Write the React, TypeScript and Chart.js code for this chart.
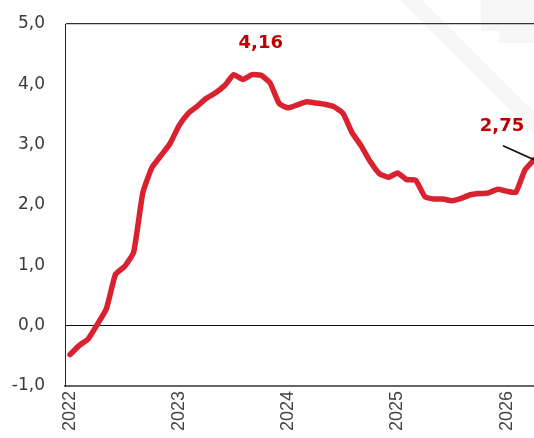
import React, { useEffect, useRef } from "react";
import { Chart, registerables } from "chart.js";

Chart.register(...registerables);

// Monthly series, first value = January 2022
const YEAR_LABELS = ["2022", "2023", "2024", "2025", "2026"];
const MONTHS_PER_YEAR = 12;
const VALUES = [
  -0.48, -0.33, -0.22, 0.02, 0.28, 0.85, 0.98, 1.22, 2.2, 2.62, 2.82, 3.02,
  3.32, 3.52, 3.64, 3.77, 3.86, 3.98, 4.16, 4.08, 4.16, 4.15, 4.02, 3.68,
  3.61, 3.66, 3.71, 3.69, 3.67, 3.63, 3.52, 3.2, 2.98, 2.72, 2.52, 2.46,
  2.53, 2.42, 2.41, 2.14, 2.1, 2.1, 2.07, 2.11, 2.17, 2.19, 2.2, 2.26,
  2.23, 2.21, 2.58, 2.75,
];
const Y_TICKS = [-1, 0, 1, 2, 3, 4, 5];
const PEAK_LABEL = "4,16";
const LAST_LABEL = "2,75";

const fmt = (v: number) => v.toFixed(1).replace(".", ",");

export default function App() {
  const ref = useRef<HTMLCanvasElement>(null);

  useEffect(() => {
    if (!ref.current) return;
    const points = VALUES.map((v, i) => ({ x: i, y: v }));
    const peakIndex = VALUES.indexOf(Math.max(...VALUES));
    const lastIndex = VALUES.length - 1;

    const decor = {
      id: "decor",
      beforeDraw(chart: any) {
        const { ctx, width: w } = chart;
        ctx.save();
        ctx.fillStyle = "#f6f6f6";
        // faint watermark band
        ctx.beginPath();
        ctx.moveTo(w - 134, 0);
        ctx.lineTo(w - 112, 0);
        ctx.lineTo(w, 112);
        ctx.lineTo(w, 134);
        ctx.closePath();
        ctx.fill();
        ctx.beginPath();
        ctx.moveTo(w - 53, 0);
        ctx.lineTo(w, 0);
        ctx.lineTo(w, 43);
        ctx.lineTo(w - 35, 43);
        ctx.lineTo(w - 35, 31);
        ctx.lineTo(w - 53, 31);
        ctx.closePath();
        ctx.fill();
        ctx.restore();
      },
      afterDatasetsDraw(chart: any) {
        const { ctx } = chart;
        const meta = chart.getDatasetMeta(0);
        const pk = meta.data[peakIndex];
        const last = meta.data[lastIndex];
        ctx.save();
        ctx.fillStyle = "#c00000";
        ctx.font = "bold 18px 'DejaVu Sans'";
        ctx.textAlign = "center";
        ctx.textBaseline = "middle";
        ctx.fillText(PEAK_LABEL, pk.x + 27, pk.y - 31);
        ctx.fillText(LAST_LABEL, last.x - 32, last.y - 33);
        ctx.strokeStyle = "#111";
        ctx.lineWidth = 1.6;
        ctx.beginPath();
        ctx.moveTo(last.x - 31, last.y - 14);
        ctx.lineTo(last.x, last.y);
        ctx.stroke();
        ctx.restore();
      },
    };

    const chart = new Chart(ref.current, {
      type: "line",
      data: {
        datasets: [
          {
            data: points,
            borderColor: "#da2130",
            borderWidth: 5.5,
            pointRadius: 0,
            tension: 0.15,
            borderJoinStyle: "round",
            borderCapStyle: "round",
            fill: false,
          },
        ],
      },
      options: {
        animation: false,
        responsive: true,
        maintainAspectRatio: false,
        layout: { padding: { top: 24, left: 0, right: 0, bottom: 0 } },
        plugins: {
          legend: { display: false },
          tooltip: { enabled: false },
        },
        scales: {
          x: {
            type: "linear",
            min: -0.55,
            max: lastIndex,
            afterBuildTicks: (axis: any) => {
              axis.ticks = YEAR_LABELS.map((_, k) => ({ value: k * MONTHS_PER_YEAR }));
            },
            afterFit: (axis: any) => {
              axis.height = 52;
            },
            ticks: {
              autoSkip: false,
              minRotation: 90,
              maxRotation: 90,
              padding: 5,
              color: "#444",
              font: { family: "'Liberation Sans', Arial", size: 18 },
              callback: (v: any) => YEAR_LABELS[Math.round(Number(v) / MONTHS_PER_YEAR)] ?? "",
            },
            grid: { display: false, drawTicks: false },
            border: { display: true, color: "#666", width: 2 },
          },
          y: {
            min: Y_TICKS[0],
            max: Y_TICKS[Y_TICKS.length - 1],
            afterBuildTicks: (axis: any) => {
              axis.ticks = Y_TICKS.map((v) => ({ value: v }));
            },
            afterFit: (axis: any) => {
              axis.width = 65;
              axis.paddingTop = 8;
              axis.paddingBottom = 8;
            },
            ticks: {
              padding: 20,
              color: "#3a3a3a",
              font: { family: "'DejaVu Sans'", size: 17 },
              callback: (v: any) => fmt(Number(v)),
            },
            grid: {
              drawTicks: false,
              color: (c: any) =>
                c.tick && c.tick.value === 0
                  ? "#111"
                  : c.tick && c.tick.value === Y_TICKS[Y_TICKS.length - 1]
                  ? "#333"
                  : "rgba(0,0,0,0)",
              lineWidth: (c: any) =>
                c.tick && c.tick.value === Y_TICKS[Y_TICKS.length - 1] ? 1.3 : 1,
            },
            border: { display: true, color: "#222", width: 1 },
          },
        },
      },
      plugins: [decor],
    } as any);

    return () => chart.destroy();
  }, []);

  return (
    <div style={{ position: "fixed", left: 0, top: 0, width: 534, height: 438 }}>
      <canvas ref={ref} />
    </div>
  );
}
